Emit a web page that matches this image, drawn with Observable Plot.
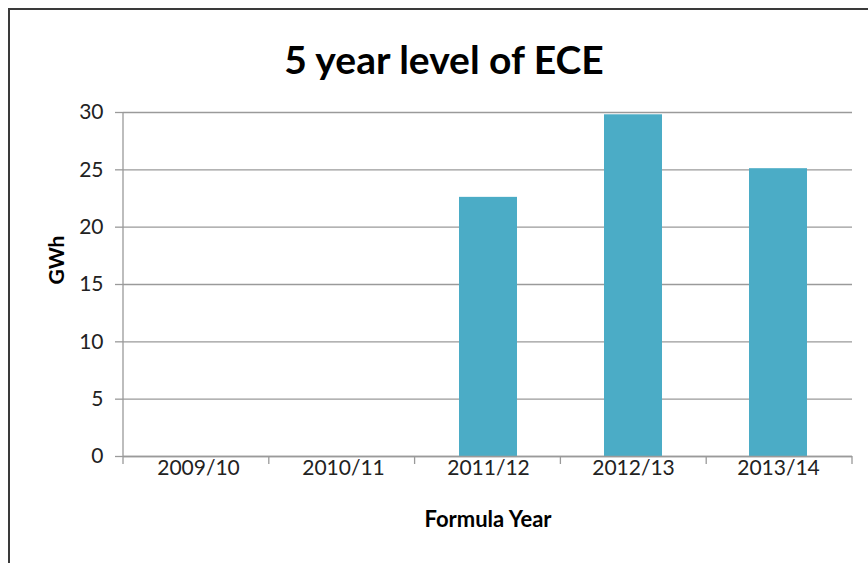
<!DOCTYPE html>
<html><head>
<meta charset="utf-8">
<script src="https://cdn.jsdelivr.net/npm/d3@7"></script>
<script src="https://cdn.jsdelivr.net/npm/@observablehq/plot@0.6"></script>
<style>
body{margin:0;background:#fff;}
#wrap{position:relative;width:868px;height:563px;overflow:hidden;background:#fff;}
#frame{position:absolute;left:8px;top:8px;width:900px;height:600px;border-left:2px solid #3a3a3a;border-top:2px solid #3a3a3a;}
#chart{position:absolute;left:0;top:0;}
</style></head><body>
<div id="wrap"><div id="frame"></div><div id="chart"></div></div>
<script>
const years = ["2009/10", "2010/11", "2011/12", "2012/13", "2013/14"];
const gwh = [null, null, 22.6, 29.8, 25.1];
const yTicks = [0, 5, 10, 15, 20, 25, 30];
const title = "5 year level of ECE";
const xLabel = "Formula Year";
const yLabel = "GWh";

const data = years.map((y, i) => ({year: y, value: gwh[i]})).filter(d => d.value != null);
const gridColor = "#9a9a9a";
const barColor = "#4bacc6";

const plot = Plot.plot({
  width: 868, height: 563,
  marginLeft: 123, marginRight: 16, marginTop: 112, marginBottom: 107,
  style: {fontFamily: "Lato", background: "transparent", color: "#222", overflow: "visible"},
  x: {domain: years, paddingInner: 0.6, paddingOuter: 0.3},
  y: {domain: [0, 30]},
  marks: [
    Plot.ruleY(yTicks, {stroke: gridColor, strokeWidth: 1.3}),
    Plot.axisY(yTicks, {tickSize: 8, tickPadding: 12, fontSize: 21, stroke: gridColor, strokeWidth: 1.3, fill: "#222", label: null}),
    Plot.axisX({tickSize: 0, tickPadding: 4, fontSize: 21, fill: "#222", label: null}),
    Plot.barY(data, {x: "year", y: "value", fill: barColor}),
    Plot.ruleY([0], {stroke: gridColor, strokeWidth: 1.3}),
    Plot.text([title], {frameAnchor: "top", dy: -66, dx: -44, fontSize: 39, fontWeight: "bold", fill: "#000"}),
    Plot.text([xLabel], {frameAnchor: "bottom", dy: 70, fontSize: 22, fontWeight: "bold", fill: "#000"}),
    Plot.text([yLabel], {frameAnchor: "left", dx: -66, rotate: -90, fontSize: 21, fontWeight: "bold", fill: "#000"})
  ]
});
document.getElementById("chart").appendChild(plot);

// category boundary ticks and vertical axis line, placed with Plot's own scales
const sx = plot.scale("x"), sy = plot.scale("y");
const [r0, r1] = sx.range;
const n = years.length;
const y0 = sy.apply(0), yTop = sy.apply(30);
const g = d3.select(plot).append("g").attr("stroke", gridColor).attr("stroke-width", 1.3);
for (let i = 0; i <= n; i++) {
  const x = r0 + i * (r1 - r0) / n;
  g.append("line").attr("x1", x).attr("x2", x).attr("y1", y0).attr("y2", y0 + 8);
}
g.append("line").attr("x1", r0).attr("x2", r0).attr("y1", yTop).attr("y2", y0);
</script>
</body></html>
